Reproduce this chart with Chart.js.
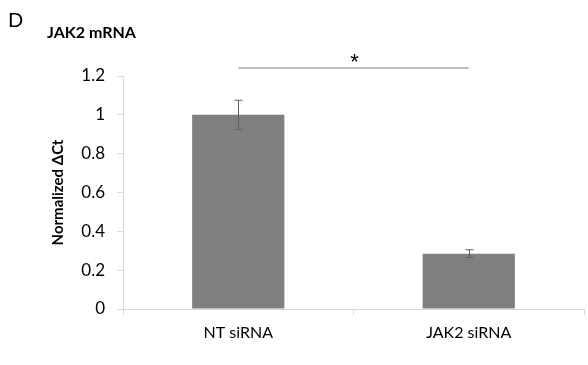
<!DOCTYPE html>
<html>
<head>
<meta charset="utf-8">
<script src="https://cdn.jsdelivr.net/npm/chart.js@4"></script>
<style>
  html, body { margin: 0; padding: 0; background: #fff; }
  #wrap { width: 588px; height: 365px; position: relative; }
</style>
</head>
<body>
<div id="wrap"><canvas id="c" width="588" height="365"></canvas></div>
<script>
// Relative JAK2 expression after siRNA knockdown
const categories = ["NT siRNA", "JAK2 siRNA"];
const meanValues = [1.0, 0.285];
const errorValues = [0.075, 0.02];
const yTicks = [0, 0.2, 0.4, 0.6, 0.8, 1, 1.2];
const panelLetter = "D";
const panelTitle = "JAK2 mRNA";
const yTitle = "Normalized \u0394Ct";
const sigMark = "*";

const FONT = "Lato, 'Open Sans', 'Liberation Sans', sans-serif";

// Error bars, significance bracket, axis title and panel heading
const annotations = {
  id: "annotations",
  afterDatasetsDraw(chart) {
    const ctx = chart.ctx;
    const xs = chart.scales.x, ys = chart.scales.y;
    const area = chart.chartArea;
    ctx.save();
    ctx.strokeStyle = "#5f5f5f";
    ctx.lineWidth = 1;
    meanValues.forEach((v, i) => {
      const x = Math.round(xs.getPixelForValue(i)) + 0.5;
      const yt = ys.getPixelForValue(v + errorValues[i]);
      const yb = ys.getPixelForValue(v - errorValues[i]);
      ctx.beginPath();
      ctx.moveTo(x, yt); ctx.lineTo(x, yb);
      ctx.moveTo(x - 4, yt); ctx.lineTo(x + 4, yt);
      ctx.moveTo(x - 4, yb); ctx.lineTo(x + 4, yb);
      ctx.stroke();
    });
    // significance bracket between the two groups
    const x0 = xs.getPixelForValue(0), x1 = xs.getPixelForValue(1);
    const yl = area.top - 8;
    ctx.strokeStyle = "#a6a6a6";
    ctx.lineWidth = 1.6;
    ctx.beginPath();
    ctx.moveTo(x0, yl); ctx.lineTo(x1, yl);
    ctx.stroke();
    ctx.fillStyle = "#000";
    ctx.font = "22px 'Liberation Sans', sans-serif";
    ctx.textAlign = "center";
    ctx.textBaseline = "alphabetic";
    ctx.fillText(sigMark, (x0 + x1) / 2 + 1, yl + 1);
    // y-axis title
    ctx.save();
    ctx.translate(58, (area.top + area.bottom) / 2);
    ctx.rotate(-Math.PI / 2);
    ctx.textBaseline = "middle";
    ctx.font = "bold 15px " + FONT;
    ctx.fillText(yTitle, 0, 0);
    ctx.restore();
    // heading
    ctx.textAlign = "left";
    ctx.textBaseline = "alphabetic";
    ctx.font = "20px " + FONT;
    ctx.fillText(panelLetter, 8, 27);
    ctx.font = "bold 16px " + FONT;
    ctx.fillText(panelTitle, 47, 38);
    ctx.restore();
  }
};

new Chart(document.getElementById("c"), {
  type: "bar",
  data: {
    labels: categories,
    datasets: [{
      data: meanValues,
      backgroundColor: "#808080",
      borderWidth: 0,
      categoryPercentage: 0.8,
      barPercentage: 0.5
    }]
  },
  options: {
    responsive: false,
    animation: false,
    devicePixelRatio: 1,
    layout: { padding: { top: 76, right: 4, left: 0, bottom: 0 } },
    plugins: { legend: { display: false }, tooltip: { enabled: false } },
    scales: {
      x: {
        afterFit(scale) { scale.height = 56; },
        grid: { display: true, drawOnChartArea: false, drawTicks: true, tickLength: 6, color: "#d9d9d9", offset: true },
        border: { color: "#d9d9d9", width: 1 },
        ticks: { color: "#000", font: { family: FONT, size: 16 }, padding: 8 }
      },
      y: {
        min: 0, max: 1.2,
        afterFit(scale) { scale.width = 123; },
        afterBuildTicks(scale) { scale.ticks = yTicks.map(v => ({ value: v })); },
        grid: { display: true, drawOnChartArea: false, drawTicks: true, tickLength: 6, color: "#d9d9d9" },
        border: { color: "#d9d9d9", width: 1 },
        ticks: { color: "#000", font: { family: FONT, size: 17 }, padding: 12, callback: v => String(+v.toFixed(1)) }
      }
    }
  },
  plugins: [annotations]
});
</script>
</body>
</html>
